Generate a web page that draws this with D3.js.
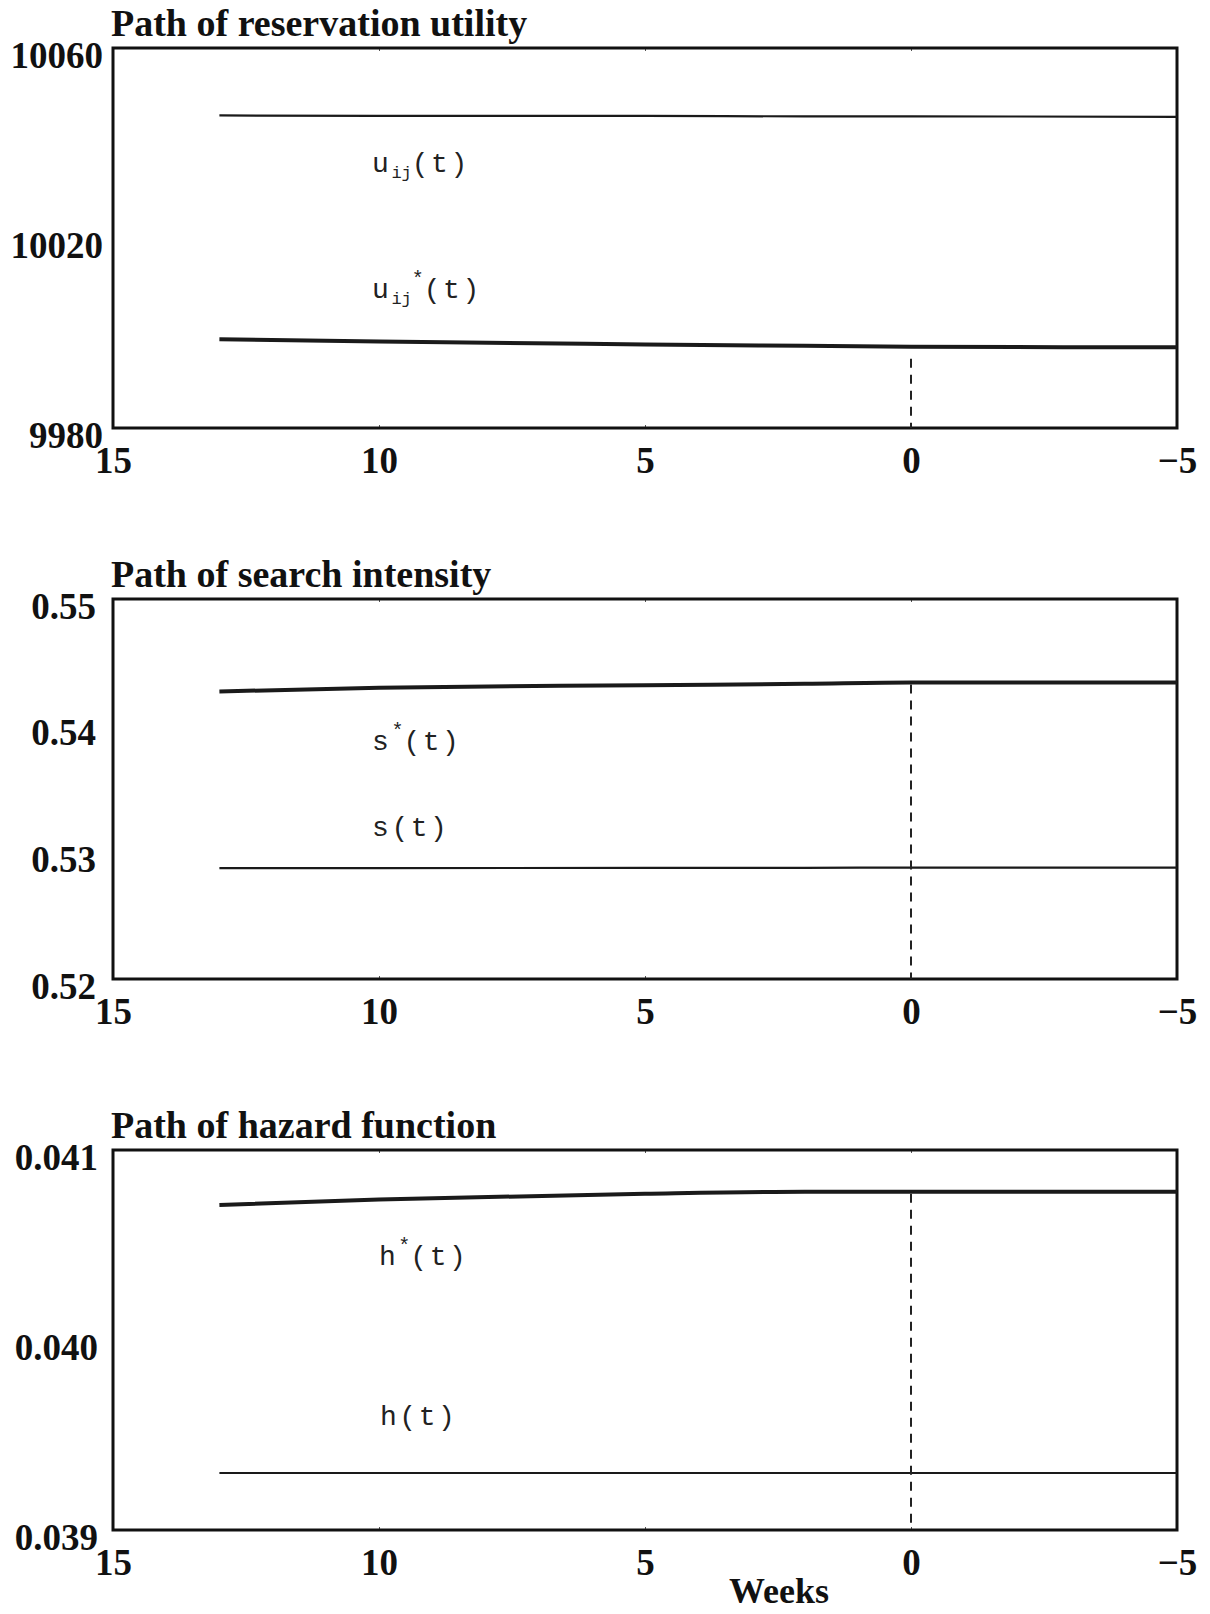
<!DOCTYPE html>
<html>
<head>
<meta charset="utf-8">
<script src="https://cdn.jsdelivr.net/npm/d3@7"></script>
<style>
  body { margin: 0; background: #fff; }
  svg { display: block; }
  .title, .tick text, .xlabel { font-family: "Liberation Serif", "Times New Roman", serif; font-weight: bold; fill: #111; }
  .series { font-family: "Liberation Mono", "Courier New", monospace; fill: #222; }
</style>
</head>
<body>
<svg></svg>
<script>
const width = 1210;
const height = 1614;

// weeks before (positive) / after (negative) the event
const weeks = [13, 10, 5, 2, 0, -5];

// reservation utility
const uPath     = [10045.8, 10045.7, 10045.7, 10045.6, 10045.6, 10045.5];
const uStarPath = [9998.7, 9998.2, 9997.6, 9997.3, 9997.1, 9997.0];

// search intensity
const sPath     = [0.52876, 0.52876, 0.52877, 0.52878, 0.52879, 0.5288];
const sStarPath = [0.5427, 0.5430, 0.5432, 0.5433, 0.5434, 0.5434];

// hazard function
const hPath     = [0.03930, 0.03930, 0.03930, 0.03930, 0.03930, 0.03930];
const hStarPath = [0.04071, 0.04074, 0.04077, 0.04078, 0.04078, 0.04078];

const xTicks = [15, 10, 5, 0, -5];
const titles = ['Path of reservation utility', 'Path of search intensity', 'Path of hazard function'];
const yDomains = [[9980, 10060], [0.52, 0.55], [0.039, 0.041]];
const yTicks = [[9980, 10020, 10060], [0.52, 0.53, 0.54, 0.55], [0.039, 0.040, 0.041]];
const yFormats = [d3.format('d'), d3.format('.2f'), d3.format('.3f')];

// label anchors in data units: [week, value]
const labelSpots = [
  [[10.13, 10033.9], [10.13, 10007.4]],
  [[10.13, 0.5381], [10.13, 0.5313]],
  [[10.0, 0.040395], [9.98, 0.039553]]
];

const panels = [
  {thin: uPath, thick: uStarPath, top: 48, gap: 10},
  {thin: sPath, thick: sStarPath, top: 599, gap: 17},
  {thin: hPath, thick: hStarPath, top: 1150, gap: 15}
];

const left = 113, right = 1177, ph = 380;

const svg = d3.select('svg')
    .attr('width', width)
    .attr('height', height);

const x = d3.scaleLinear().domain([15, -5]).range([left, right]);

panels.forEach((p, i) => {
  const y = d3.scaleLinear().domain(yDomains[i]).range([p.top + ph, p.top]);
  const g = svg.append('g');

  g.append('text')
    .classed('title', true)
    .attr('x', left - 2)
    .attr('y', p.top - 12)
    .style('font-size', '38px')
    .text(titles[i]);

  // bottom axis with short inner ticks
  const xa = g.append('g')
    .attr('transform', `translate(0,${p.top + ph})`)
    .call(d3.axisBottom(x).tickValues(xTicks).tickSize(-3));
  xa.select('.domain').remove();
  xa.selectAll('line').attr('stroke', '#555').attr('stroke-width', 1);
  xa.selectAll('text')
    .attr('y', 45).attr('dy', 0)
    .style('font-size', '37px');

  // top inner ticks
  const xt = g.append('g')
    .attr('transform', `translate(0,${p.top})`)
    .call(d3.axisTop(x).tickValues(xTicks).tickSize(-3).tickFormat(''));
  xt.select('.domain').remove();
  xt.selectAll('line').attr('stroke', '#555').attr('stroke-width', 1);

  const ya = g.append('g')
    .attr('transform', `translate(${left},0)`)
    .call(d3.axisLeft(y).tickValues(yTicks[i]).tickFormat(yFormats[i]).tickSize(0).tickPadding(p.gap));
  ya.select('.domain').remove();
  ya.selectAll('text')
    .attr('dy', 19)
    .style('font-size', '37px');

  g.append('rect')
    .attr('x', left).attr('y', p.top)
    .attr('width', right - left).attr('height', ph)
    .attr('fill', 'none')
    .attr('stroke', '#111')
    .attr('stroke-width', 3);

  const line = d3.line()
    .x((d, j) => x(weeks[j]))
    .y(d => y(d))
    .curve(d3.curveMonotoneX);

  g.append('path')
    .datum(p.thin)
    .attr('d', line)
    .attr('fill', 'none')
    .attr('stroke', '#1a1a1a')
    .attr('stroke-width', 2.2);

  g.append('path')
    .datum(p.thick)
    .attr('d', line)
    .attr('fill', 'none')
    .attr('stroke', '#1a1a1a')
    .attr('stroke-width', 4);

  // dashed marker at week 0
  const starAt0 = p.thick[weeks.indexOf(0)];
  g.append('line')
    .attr('x1', x(0)).attr('x2', x(0))
    .attr('y1', y(starAt0) + (i === 0 ? 12 : 2))
    .attr('y2', p.top + ph)
    .attr('stroke', '#222')
    .attr('stroke-width', 2)
    .attr('stroke-dasharray', '9,7');
});

// series labels
const labelDefs = [
  [[['u'], ['ij', 'sub'], ['(t)', 'back']], [['u'], ['ij', 'sub'], ['*', 'supFromSub'], ['(t)', 'backFromSup']]],
  [[['s'], ['*', 'sup'], ['(t)', 'backSup']], [['s(t)']]],
  [[['h'], ['*', 'sup'], ['(t)', 'backSup']], [['h(t)']]]
];

const shifts = {sub: 6, back: -6, sup: -13, backSup: 13, supFromSub: -19, backFromSup: 13};
const sizes = {sub: '17px', sup: '20px', supFromSub: '20px'};

labelDefs.forEach((pair, i) => {
  const y = d3.scaleLinear().domain(yDomains[i]).range([panels[i].top + ph, panels[i].top]);
  pair.forEach((parts, k) => {
    const [wk, val] = labelSpots[i][k];
    const t = svg.append('text')
      .classed('series', true)
      .attr('x', x(wk))
      .attr('y', y(val))
      .style('font-size', '28px')
      .style('letter-spacing', '2.5px');
    parts.forEach(([txt, kind]) => {
      const ts = t.append('tspan').text(txt);
      if (kind) ts.attr('dy', shifts[kind]);
      if (sizes[kind]) ts.style('font-size', sizes[kind]).style('letter-spacing', '0px');
    });
  });
});

svg.append('text')
  .classed('xlabel', true)
  .attr('x', 779)
  .attr('y', 1603)
  .attr('text-anchor', 'middle')
  .style('font-size', '36px')
  .text('Weeks');
</script>
</body>
</html>
